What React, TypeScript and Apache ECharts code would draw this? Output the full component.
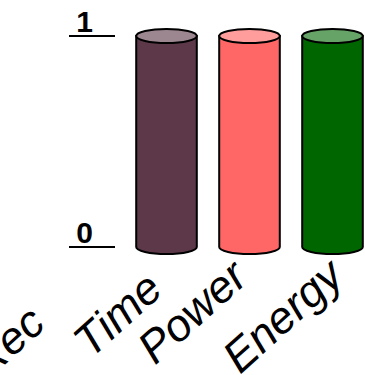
import React, { useEffect, useRef } from "react";
import * as echarts from "echarts";

const categories = ["Time", "Power", "Energy"];
const values = [1, 1, 1];
const bodyColors = ["#5c3849", "#ff6666", "#006600"];
const topColors = ["#9c8690", "#ff9c9c", "#66a366"];
const yTicks = [0, 1];
const extraLabel = "Rec";

const FONT = "'Liberation Sans', Arial, sans-serif";
const ROT = 42;
const LABEL_SIZE = 45;

// fine placement of each slanted category label, relative to its tick
const labelShiftX = [-12, -10, 3];
const labelShiftY = [34, 22, 21];

export default function App() {
  const ref = useRef<HTMLDivElement>(null);

  useEffect(() => {
    if (!ref.current) return;
    const chart = echarts.init(ref.current, null, { renderer: "svg" });

    const data = categories.map((c, i) => [i, values[i]]);
    const rotation = (ROT * Math.PI) / 180;

    const labelStyle = (text: string) => ({
      text,
      fontSize: LABEL_SIZE,
      fontStyle: "italic",
      fill: "#000",
      fontFamily: FONT,
      align: "right",
      verticalAlign: "middle",
    });

    chart.setOption({
      animation: false,
      grid: {
        left: 125,
        top: 36,
        width: 249,
        height: 211,
        containLabel: false,
        outerBoundsMode: "none",
      },
      xAxis: {
        type: "category",
        data: categories,
        axisLine: { show: false },
        axisTick: { show: false },
        axisLabel: { show: false },
      },
      yAxis: {
        type: "value",
        min: yTicks[0],
        max: yTicks[yTicks.length - 1],
        interval: 1,
        offset: 10,
        splitLine: { show: false },
        axisLine: { show: false },
        axisTick: { show: true, length: 46, lineStyle: { color: "#000", width: 2 } },
        axisLabel: {
          margin: 22,
          fontSize: 30,
          fontWeight: "bold",
          color: "#000",
          fontFamily: FONT,
          verticalAlign: "bottom",
        },
      },
      series: [
        {
          type: "custom",
          data,
          renderItem: (params: any, api: any) => {
            const idx = api.value(0);
            const top = api.coord([idx, api.value(1)]);
            const base = api.coord([idx, 0]);
            const w = api.size([1, 0])[0] * 0.73;
            const rx = w / 2;
            const ry = 7;
            const cx = top[0];
            const ty = top[1];
            const by = base[1];
            const body =
              `M${cx - rx} ${ty} L${cx - rx} ${by} ` +
              `A${rx} ${ry} 0 0 0 ${cx + rx} ${by} L${cx + rx} ${ty} Z`;
            const cap =
              `M${cx - rx} ${ty} A${rx} ${ry} 0 1 0 ${cx + rx} ${ty} ` +
              `A${rx} ${ry} 0 1 0 ${cx - rx} ${ty} Z`;
            return {
              type: "group",
              children: [
                {
                  type: "path",
                  shape: { pathData: body },
                  style: { fill: bodyColors[params.dataIndex], stroke: "#000", lineWidth: 2 },
                },
                {
                  type: "path",
                  shape: { pathData: cap },
                  style: { fill: topColors[params.dataIndex], stroke: "#000", lineWidth: 2 },
                },
              ],
            };
          },
        },
      ],
    });

    // slanted category names, anchored at their end to each category's base point
    const labels: any[] = categories.map((name, i) => {
      const p = chart.convertToPixel({ gridIndex: 0 }, [i, 0]) as number[];
      return {
        type: "text",
        x: p[0] + labelShiftX[i],
        y: p[1] + labelShiftY[i],
        rotation,
        style: labelStyle(name),
      };
    });
    labels.push({
      type: "text",
      x: 37,
      y: 315,
      rotation,
      style: labelStyle(extraLabel),
    });
    chart.setOption({ graphic: labels });

    return () => chart.dispose();
  }, []);

  return (
    <div style={{ position: "absolute", left: 0, top: 0, width: 365, height: 375, overflow: "hidden" }}>
      <div ref={ref} style={{ width: 380, height: 375 }} />
    </div>
  );
}
